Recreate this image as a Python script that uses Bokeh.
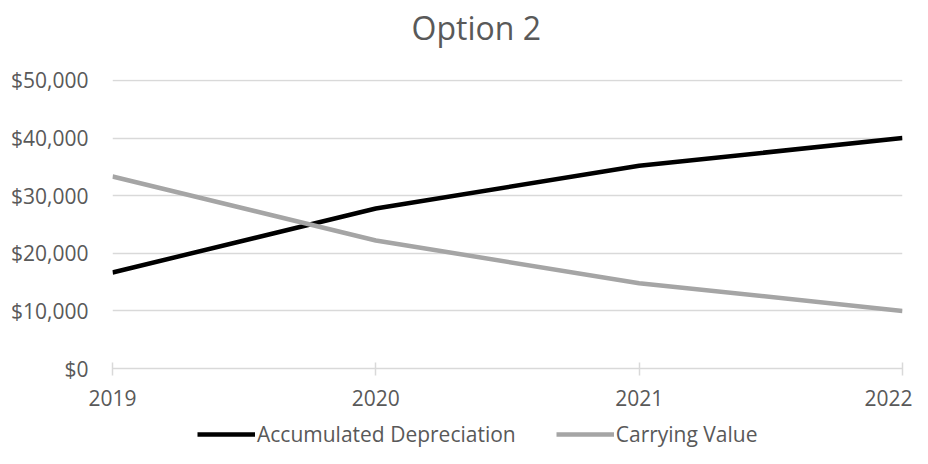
from bokeh.plotting import figure
from bokeh.layouts import column
from bokeh.models import Range1d, NumeralTickFormatter, Legend, LegendItem, FixedTicker, Label
from bokeh.embed import file_html
from bokeh.resources import INLINE

years = [2019, 2020, 2021, 2022]
accumulated_depreciation = [16667, 27778, 35185, 40000]
carrying_value = [33333, 22222, 14815, 10000]
y_ticks = [0, 10000, 20000, 30000, 40000, 50000]
series_names = ["Accumulated Depreciation", "Carrying Value"]
chart_title = "Option 2"

FONT = "Open Sans"
TXT = "#595959"
C_AD = "#000000"
C_CV = "#A5A5A5"


def strip(h):
    s = figure(width=912, height=h, output_backend="svg", toolbar_location=None,
               x_axis_type=None, y_axis_type=None, outline_line_color=None,
               min_border=0, x_range=Range1d(0, 1), y_range=Range1d(0, 1))
    s.grid.visible = False
    return s


# title strip
t = strip(60)
t.add_layout(Label(x=299, y=33, x_units="screen", y_units="screen", text=chart_title,
                   text_font=FONT, text_font_size="32px", text_color=TXT,
                   text_align="left", text_baseline="middle"))

# main chart (range end a hair above the top tick so its grid line is not clipped)
p = figure(width=912, height=358, output_backend="svg", toolbar_location=None,
           x_range=Range1d(2019, 2022), y_range=Range1d(0, 50170),
           min_border_left=112, min_border_right=10, min_border_top=19,
           min_border_bottom=50, outline_line_color=None)

p.line(years, accumulated_depreciation, line_color=C_AD, line_width=4.5)
p.line(years, carrying_value, line_color=C_CV, line_width=4.5)

p.xaxis.ticker = FixedTicker(ticks=years)
p.yaxis.ticker = FixedTicker(ticks=y_ticks)
p.yaxis.formatter = NumeralTickFormatter(format="$0,0")

for ax in (p.xaxis, p.yaxis):
    ax.major_label_text_font = FONT
    ax.major_label_text_font_size = "21px"
    ax.major_label_text_color = TXT
    ax.minor_tick_line_color = None

p.yaxis.axis_line_color = None
p.yaxis.major_tick_line_color = None
p.yaxis.major_label_standoff = 18

p.xaxis.axis_line_color = "#D9D9D9"
p.xaxis.axis_line_width = 1.5
p.xaxis.major_tick_line_color = "#D9D9D9"
p.xaxis.major_tick_line_width = 1.5
p.xaxis.major_tick_in = 6
p.xaxis.major_tick_out = 7
p.xaxis.major_label_standoff = 14

p.xgrid.grid_line_color = None
p.ygrid.grid_line_color = "#D9D9D9"
p.ygrid.grid_line_width = 1.5

# legend strip (its lines lie outside the strip's ranges; only the legend shows)
q = strip(30)
l1 = q.line(years, accumulated_depreciation, line_color=C_AD, line_width=4.5)
l2 = q.line(years, carrying_value, line_color=C_CV, line_width=4.5)
legend = Legend(items=[LegendItem(label=series_names[0], renderers=[l1]),
                       LegendItem(label=series_names[1], renderers=[l2])],
                orientation="horizontal", location=(85, 0),
                label_text_font=FONT, label_text_font_size="21px", label_text_color=TXT,
                glyph_width=58, glyph_height=24, label_standoff=2, spacing=40,
                label_height=24, padding=0, margin=0,
                border_line_color=None, background_fill_alpha=0)
q.add_layout(legend, "center")

open("out.html", "w").write(file_html(column(t, p, q, spacing=0), INLINE))
